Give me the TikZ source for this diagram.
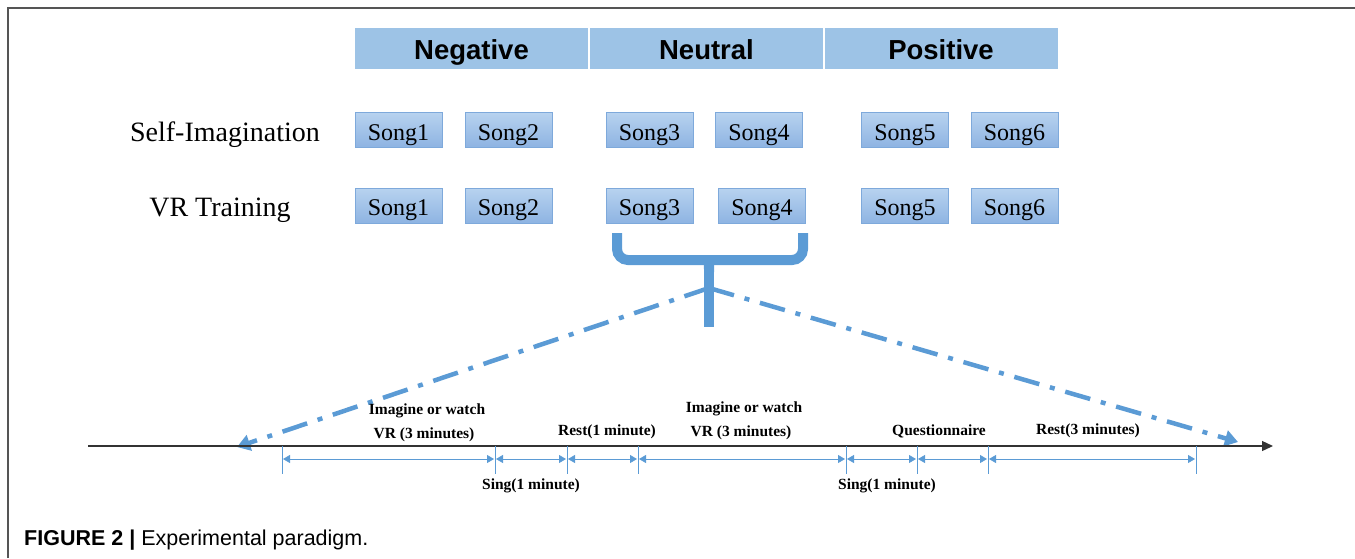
\documentclass[tikz,border=0pt]{standalone}
\usepackage{fontspec}
\setmainfont{Liberation Serif}
\newfontfamily\arialf{Liberation Sans}
\usetikzlibrary{arrows.meta}
\definecolor{hdrblue}{HTML}{9DC3E6}
\definecolor{songtop}{HTML}{B7D2EF}
\definecolor{songbot}{HTML}{8DB3E2}
\definecolor{songedge}{HTML}{7EA9DB}
\definecolor{accent}{HTML}{5B9BD5}
\definecolor{framegray}{HTML}{555555}
\tikzset{
  hdr/.style={fill=hdrblue, draw=none, minimum width=233pt, minimum height=41pt, inner sep=0pt,
    text height=21.6pt, text depth=0pt,
    font=\arialf\bfseries\fontsize{27.5}{30}\selectfont},
  songbox/.style={top color=songtop, bottom color=songbot, draw=songedge, line width=0.8pt,
    minimum width=87pt, minimum height=35pt, inner sep=0pt, text height=19.4pt, text depth=0pt,
    font=\fontsize{24}{28}\selectfont},
  rowlabel/.style={inner sep=0pt, anchor=base, font=\fontsize{28}{32}\selectfont},
  brace/.style={draw=accent, line width=10pt},
  dashdot/.style={draw=accent, line width=4.5pt, dash pattern=on 26pt off 11pt on 5pt off 11pt,
    -{Triangle[length=13pt,width=16pt]}},
  tick/.style={draw=accent, line width=0.8pt},
  dim/.style={draw=accent, line width=0.8pt, {Triangle[length=7pt,width=8pt]}-{Triangle[length=7pt,width=8pt]}, shorten <=1pt, shorten >=1pt},
  tlabel/.style={inner sep=0pt, font=\bfseries\fontsize{15.5}{18}\selectfont},
}
\begin{document}
\begin{tikzpicture}[x=1pt,y=-1pt]
\useasboundingbox (0,0) rectangle (1355,558);
% frame
\draw[framegray, line width=2pt] (8,558) -- (8,7.5) -- (1355,7.5);
% header
\node[hdr] (neg) at (471.5,48.5) {Negative};
\node[hdr] (neu) at (706.5,48.5) {Neutral};
\node[hdr] (pos) at (941,48.5) {Positive};
% row labels
\node[rowlabel] (selfim) at (225,141) {Self-Imagination};
\node[rowlabel] (vrtr) at (220,216) {VR Training};
% songs row 1
\node[songbox] (a1) at (398.5,130.3) {Song1};
\node[songbox] (a2) at (508.5,130.3) {Song2};
\node[songbox] (a3) at (649.5,130.3) {Song3};
\node[songbox] (a4) at (759,130.3) {Song4};
\node[songbox] (a5) at (905,130.3) {Song5};
\node[songbox] (a6) at (1014.5,130.3) {Song6};
% songs row 2
\node[songbox] (b1) at (398.5,206.2) {Song1};
\node[songbox] (b2) at (508.5,206.2) {Song2};
\node[songbox] (b3) at (649.5,206.2) {Song3};
\node[songbox] (b4) at (762,206.2) {Song4};
\node[songbox] (b5) at (905,206.2) {Song5};
\node[songbox] (b6) at (1014.5,206.2) {Song6};
% brace
\coordinate (brL) at (617,233);
\coordinate (brR) at (803,233);
\coordinate (brM) at (709,260);
\coordinate (stemEnd) at (709,327);
\coordinate (apex) at (709,288);
\draw[brace, rounded corners=11pt] (brL) |- (brM);
\draw[brace, rounded corners=11pt] (brR) |- (brM);
\draw[brace, line cap=butt] (brM) -- (stemEnd);
\fill[accent] (697,255) to[out=0,in=90] (704,272) -- (714,272) to[out=90,in=180] (721,255) -- cycle;
% dash-dot arrows
\coordinate (tipL) at (237,447);
\coordinate (tipR) at (1238,442);
\draw[dashdot] (apex) -- (tipL);
\draw[dashdot] (apex) -- (tipR);
% axis
\coordinate (axL) at (88,446);
\coordinate (axR) at (1273,446);
\draw[black!80, line width=1.3pt, -{Triangle[length=11pt,width=10pt]}] (axL) -- (axR);
% ticks
\foreach \n/\x in {1/282,2/495,3/567,4/638,5/846,6/917,7/988,8/1196}{
  \coordinate (t\n) at (\x,446);
  \coordinate (d\n) at (\x,459);
  \draw[tick] (t\n) -- ++(0,28);
}
\foreach \a/\b in {1/2,2/3,3/4,4/5,5/6,6/7,7/8}{
  \draw[dim] (d\a) -- (d\b);
}
% timeline labels
\node[tlabel] (l1a) at (427,411) {Imagine or watch};
\node[tlabel] (l1b) at (424,435) {VR (3 minutes)};
\node[tlabel] (l2) at (531,486) {Sing(1 minute)};
\node[tlabel] (l3) at (607,432) {Rest(1 minute)};
\node[tlabel] (l4a) at (744,409) {Imagine or watch};
\node[tlabel] (l4b) at (741,433) {VR (3 minutes)};
\node[tlabel] (l5) at (887,486) {Sing(1 minute)};
\node[tlabel] (l6) at (939,431) {Questionnaire};
\node[tlabel] (l7) at (1088,431) {Rest(3 minutes)};
% caption
\node[anchor=west, inner sep=0pt, font=\arialf\fontsize{21.5}{24}\selectfont] (cap) at (24,540) {\textbf{FIGURE 2 |} Experimental paradigm.};
\end{tikzpicture}
\end{document}
